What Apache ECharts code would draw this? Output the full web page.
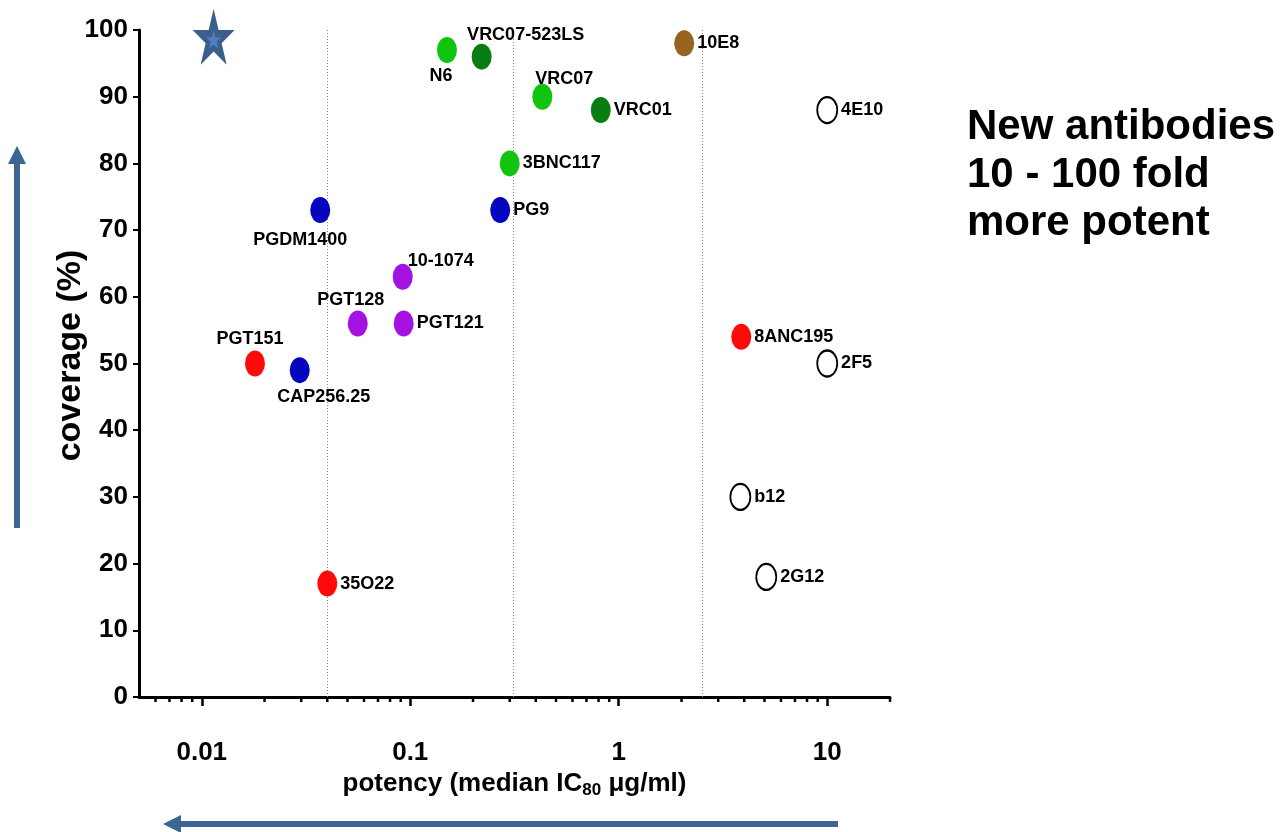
<!DOCTYPE html>
<html>
<head>
<meta charset="utf-8">
<script src="https://cdn.jsdelivr.net/npm/echarts@6/dist/echarts.min.js"></script>
<style>
  html, body { margin: 0; padding: 0; background: #fff; }
  #chart { width: 1283px; height: 832px; }
</style>
</head>
<body>
<div id="chart"></div>
<script>
// antibody data
const names = ['N6', 'VRC07-523LS', 'VRC07', 'VRC01', '10E8', '4E10', '3BNC117', 'PG9', 'PGDM1400',
  '10-1074', 'PGT128', 'PGT121', 'PGT151', 'CAP256.25', '35O22', '8ANC195', '2F5', 'b12', '2G12'];
const potency = [0.15, 0.22, 0.43, 0.82, 2.06, 10, 0.30, 0.27, 0.037,
  0.092, 0.056, 0.093, 0.018, 0.0295, 0.040, 3.87, 10, 3.83, 5.1];
const coverage = [97, 96, 90, 88, 98, 88, 80, 73, 73,
  63, 56, 56, 50, 49, 17, 54, 50, 30, 18];
const groups = ['lightGreen', 'darkGreen', 'lightGreen', 'darkGreen', 'brown', 'open', 'lightGreen', 'blue', 'blue',
  'purple', 'purple', 'purple', 'red', 'blue', 'red', 'red', 'open', 'open', 'open'];

// target (star)
const starPotency = [0.0114];
const starCoverage = [99];

// dotted reference lines
const refLines = [0.04, 0.31, 2.5];

// log axis minor ticks
const minorTicks = [0.006, 0.007, 0.008, 0.009, 0.02, 0.03, 0.04, 0.05, 0.06, 0.07, 0.08, 0.09,
  0.2, 0.3, 0.4, 0.5, 0.6, 0.7, 0.8, 0.9, 2, 3, 4, 5, 6, 7, 8, 9, 20];

const colors = {
  lightGreen: '#10c410',
  darkGreen: '#0a7d12',
  brown: '#966420',
  blue: '#0606c0',
  purple: '#a312e0',
  red: '#ff0a0a',
  open: '#ffffff'
};

// where each label sits relative to its dot
const labelPlace = {
  'N6': { position: 'bottom', offset: [-6, 0] },
  'VRC07-523LS': { position: 'top', offset: [44, 4] },
  'VRC07': { position: 'top', offset: [22, 8] },
  'PGDM1400': { position: 'bottom', offset: [-20, 4] },
  '10-1074': { position: 'top', offset: [38, 10] },
  'PGT128': { position: 'top', offset: [-7, 3] },
  'PGT151': { position: 'top', offset: [-5, 2] },
  'CAP256.25': { position: 'bottom', offset: [24, 1] }
};

const FONT = "'Liberation Sans', Arial, sans-serif";
const STAR = 'path://M50,0 L61.2,34.5 L97.6,34.5 L68.2,55.9 L79.4,90.5 L50,69.1 L20.6,90.5 L31.8,55.9 L2.4,34.5 L38.8,34.5 Z';

const chart = echarts.init(document.getElementById('chart'));

const points = names.map((n, i) => {
  const lp = labelPlace[n] || { position: 'right', offset: [0, 0] };
  const open = groups[i] === 'open';
  return {
    name: n,
    value: [potency[i], coverage[i]],
    itemStyle: {
      color: colors[groups[i]],
      borderColor: open ? '#000' : colors[groups[i]],
      borderWidth: open ? 2 : 0
    },
    label: {
      show: true,
      formatter: n,
      position: lp.position,
      offset: lp.offset,
      distance: lp.position === 'right' ? 3 : 4
    }
  };
});

const option = {
  backgroundColor: '#fff',
  animation: false,
  grid: { left: 139, right: 393, top: 30, bottom: 135 },
  xAxis: {
    type: 'log',
    logBase: 10,
    min: 0.005,
    max: 20,
    name: '{a|potency (median IC}{s|80}{a| μg/ml)}',
    nameLocation: 'middle',
    nameGap: 72,
    nameMoveOverlap: false,
    nameTextStyle: {
      rich: {
        a: { fontSize: 26, fontWeight: 'bold', fontFamily: FONT, color: '#000' },
        s: { fontSize: 17, fontWeight: 'bold', fontFamily: FONT, color: '#000', padding: [13, 0, 0, 0] }
      }
    },
    axisLine: { lineStyle: { color: '#000', width: 3 } },
    axisTick: { show: true, length: 9, lineStyle: { color: '#000', width: 2.5 } },
    splitLine: { show: false },
    axisLabel: {
      color: '#000',
      fontSize: 26,
      fontWeight: 'bold',
      fontFamily: FONT,
      margin: 43,
      showMinLabel: false,
      showMaxLabel: false,
      formatter: v => String(+(+v).toPrecision(3))
    }
  },
  yAxis: {
    type: 'value',
    min: 0,
    max: 100,
    interval: 10,
    name: 'coverage (%)',
    nameLocation: 'middle',
    nameGap: 51,
    nameMoveOverlap: false,
    nameTextStyle: { fontSize: 34, fontWeight: 'bold', fontFamily: FONT, color: '#000', padding: [0, 0, 0, 16] },
    axisLine: { show: true, lineStyle: { color: '#000', width: 3 } },
    axisTick: { show: true, length: 6, lineStyle: { color: '#000', width: 2 } },
    splitLine: { show: false },
    axisLabel: { color: '#000', fontSize: 26, fontWeight: 'bold', fontFamily: FONT, margin: 11 }
  },
  series: [
    {
      // dotted guide lines, under the dots
      type: 'custom',
      silent: true,
      data: refLines.map(v => [v]),
      encode: { x: 0 },
      renderItem: (params, api) => {
        const a = api.coord([api.value(0), 0]);
        const b = api.coord([api.value(0), 100]);
        return {
          type: 'line',
          shape: { x1: Math.round(a[0]) + 0.5, y1: a[1], x2: Math.round(b[0]) + 0.5, y2: b[1] },
          style: { stroke: '#888', lineWidth: 1, lineDash: [1, 2] }
        };
      },
      z: 1
    },
    {
      type: 'scatter',
      symbol: 'circle',
      symbolSize: [20, 26],
      data: points,
      itemStyle: { opacity: 1 },
      label: { color: '#000', fontSize: 18, fontWeight: 'bold', fontFamily: FONT },
      z: 3
    },
    {
      type: 'scatter',
      symbol: STAR,
      symbolSize: [42, 56],
      data: starPotency.map((v, i) => [v, starCoverage[i]]),
      itemStyle: { color: '#3a5f8c', opacity: 1 },
      z: 4
    },
    {
      type: 'scatter',
      symbol: STAR,
      symbolSize: [15, 18],
      symbolOffset: [0, 3],
      data: starPotency.map((v, i) => [v, starCoverage[i]]),
      itemStyle: { color: '#4f80c0', opacity: 1 },
      z: 5
    },
    {
      type: 'custom',
      silent: true,
      clip: false,
      data: minorTicks.map(v => [v, 0]),
      encode: { x: 0, y: 1 },
      renderItem: (params, api) => {
        const p = api.coord([api.value(0), 0]);
        return {
          type: 'line',
          shape: { x1: p[0], y1: p[1] + 1, x2: p[0], y2: p[1] + 5 },
          style: { stroke: '#000', lineWidth: 2.5 }
        };
      },
      z: 6
    }
  ],
  graphic: [
    // up arrow on the left
    { type: 'rect', shape: { x: 14, y: 160, width: 6, height: 368 }, style: { fill: '#3c6596' } },
    { type: 'polygon', shape: { points: [[8, 164], [17, 146], [26, 164]] }, style: { fill: '#3c6596' } },
    // left arrow at the bottom
    { type: 'rect', shape: { x: 178, y: 821, width: 660, height: 6 }, style: { fill: '#3c6596' } },
    { type: 'polygon', shape: { points: [[181, 815], [163, 824], [181, 833]] }, style: { fill: '#3c6596' } },
    {
      type: 'text',
      x: 967,
      y: 103,
      style: {
        text: 'New antibodies\n10 - 100 fold\nmore potent',
        font: "bold 42px 'Liberation Sans', Arial, sans-serif",
        lineHeight: 48,
        fill: '#000',
        verticalAlign: 'top'
      }
    }
  ]
};

chart.setOption(option);
</script>
</body>
</html>
